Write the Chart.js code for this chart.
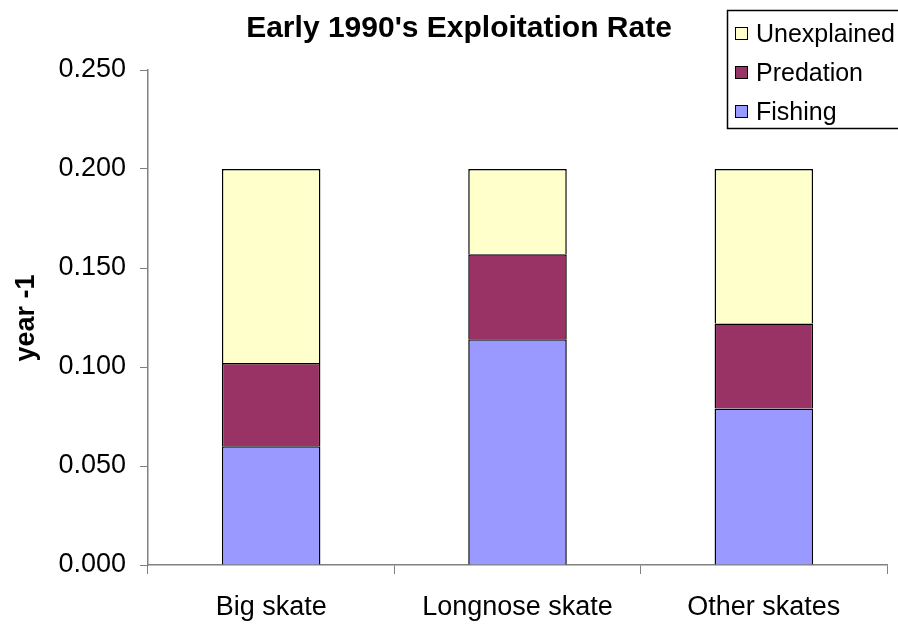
<!DOCTYPE html>
<html>
<head>
<meta charset="utf-8">
<script src="https://cdn.jsdelivr.net/npm/chart.js@4/dist/chart.umd.min.js"></script>
<style>
  html, body { margin: 0; padding: 0; background: #fff; }
  #wrap { width: 898px; height: 624px; }
</style>
</head>
<body>
<div id="wrap"><canvas id="myChart" width="898" height="624"></canvas></div>
<script>
'use strict'
let skates = ['Big skate', 'Longnose skate', 'Other skates'];
let fishing = [0.060, 0.114, 0.079];
let predation = [0.042, 0.043, 0.043];
let unexplained = [0.098, 0.043, 0.078];
let yTicks = [0, 0.05, 0.1, 0.15, 0.2, 0.25];

let chartTitle = "Early 1990's Exploitation Rate";
let font = 'Arial, "Liberation Sans", sans-serif';

// title + legend box drawn by hand so they sit where the original has them
let extras = {
    id: 'extras',
    afterDraw(chart) {
        let ctx = chart.ctx;
        ctx.save();
        ctx.fillStyle = '#000';
        ctx.font = 'bold 30px ' + font;
        ctx.textAlign = 'center';
        ctx.textBaseline = 'middle';
        ctx.fillText(chartTitle, 459, 29);

        // y axis title
        ctx.save();
        ctx.translate(27, 318);
        ctx.rotate(-Math.PI / 2);
        ctx.font = 'bold 27px ' + font;
        ctx.fillText('year -1', 0, 0);
        ctx.restore();

        // legend
        ctx.strokeStyle = '#000';
        ctx.lineWidth = 1.5;
        ctx.strokeRect(727.5, 10.5, 200, 118);
        let items = chart.data.datasets.slice().reverse();
        ctx.font = '25px ' + font;
        ctx.textAlign = 'left';
        for (let i = 0; i < items.length; i++) {
            let y = 34 + i * 39;
            ctx.fillStyle = items[i].backgroundColor;
            ctx.fillRect(735, y - 7, 13, 13);
            ctx.lineWidth = 1;
            ctx.strokeRect(735.5, y - 6.5, 12, 12);
            ctx.fillStyle = '#000';
            ctx.fillText(items[i].label, 756, y + 1);
        }
        ctx.restore();
    }
};

let ctx = document.getElementById('myChart').getContext('2d');
let myChart = new Chart(ctx, {
    type: 'bar',
    data: {
        labels: skates,
        datasets: [
            { label: 'Fishing', data: fishing, backgroundColor: '#9999FF' },
            { label: 'Predation', data: predation, backgroundColor: '#993366' },
            { label: 'Unexplained', data: unexplained, backgroundColor: '#FFFFCC' }
        ]
    },
    options: {
        responsive: false,
        animation: false,
        layout: { padding: { top: 70, right: 11, left: 0, bottom: 0 } },
        datasets: {
            bar: {
                borderColor: '#000',
                borderWidth: 1.5,
                categoryPercentage: 1,
                barPercentage: 0.4
            }
        },
        plugins: {
            legend: { display: false },
            title: { display: false },
            tooltip: { enabled: false }
        },
        scales: {
            x: {
                stacked: true,
                grid: { display: true, drawOnChartArea: false, drawTicks: true, tickLength: 9, color: '#808080', offset: true },
                border: { color: '#808080', width: 1.5 },
                ticks: { color: '#000', font: { size: 27, family: font }, padding: 17, maxRotation: 0 },
                afterFit(scale) { scale.height = 59; }
            },
            y: {
                stacked: true,
                min: 0,
                max: 0.25,
                grid: { display: true, drawOnChartArea: false, drawTicks: true, tickLength: 8, color: '#808080' },
                border: { color: '#808080', width: 1.5 },
                afterBuildTicks(scale) { scale.ticks = yTicks.map(v => ({ value: v })); },
                ticks: {
                    color: '#000',
                    font: { size: 27, family: font },
                    padding: 14,
                    callback: v => Number(v).toFixed(3)
                },
                afterFit(scale) { scale.width = 148; }
            }
        }
    },
    plugins: [extras]
});
</script>
</body>
</html>
